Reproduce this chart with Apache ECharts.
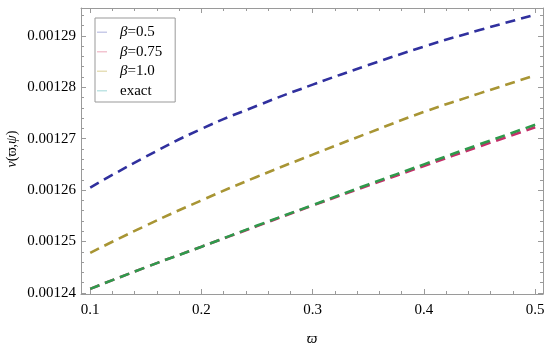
<!DOCTYPE html>
<html><head><meta charset="utf-8">
<script src="https://cdn.jsdelivr.net/npm/echarts@6/dist/echarts.min.js"></script>
</head><body style="margin:0;background:#fff">
<div id="c" style="width:550px;height:348px"></div>
<script>
const xs = [0.1, 0.15, 0.2, 0.25, 0.3, 0.35, 0.4, 0.45, 0.5];
const beta05 = [0.0012605, 0.0012665, 0.0012719, 0.0012764, 0.0012805, 0.0012843, 0.0012879, 0.0012911, 0.0012941];
const beta075 = [0.0012408, 0.0012450, 0.0012490, 0.0012530, 0.0012570, 0.0012609, 0.0012647, 0.0012685, 0.0012722];
const beta10 = [0.0012478, 0.0012531, 0.0012580, 0.0012626, 0.0012669, 0.0012711, 0.0012752, 0.0012788, 0.0012823];
const exact = [0.0012408, 0.0012450, 0.0012490, 0.0012531, 0.0012571, 0.0012611, 0.0012650, 0.0012689, 0.0012727];
const names = ['β=0.5', 'β=0.75', 'β=1.0', 'exact'];
const xMajor = [0.1, 0.2, 0.3, 0.4, 0.5];
const yMajor = [0.00124, 0.00125, 0.00126, 0.00127, 0.00128, 0.00129];

const X_MIN = 0.0917, X_MAX = 0.507, Y_MIN = 0.0012398, Y_MAX = 0.0012954;
const xMinor = [];
for (let k = 5; k <= 25; k++) { const v = +(k * 0.02).toFixed(2); if (Math.abs(v * 10 - Math.round(v * 10)) > 1e-6) xMinor.push(v); }
const yMinor = [];
for (let k = 0; k <= 27; k++) { if (k % 5) yMinor.push(+(0.00124 + k * 0.000002).toFixed(7)); }

const colors = ['#30309e', '#c42f6a', '#a89534', '#2f9a4c'];
const legendColors = ['#c8cbe8', '#f2c4d0', '#e6dfb8', '#bfe4e4'];
const serif = 'Liberation Serif';
const gridRect = { left: 81, right: 7, top: 8, bottom: 54, outerBoundsMode: 'none', containLabel: false };
const axCol = '#9a9a9a';

function xAx(pos, grid, ticks, len, labels) {
  return {
    type: 'value', gridIndex: grid, position: pos, min: X_MIN, max: X_MAX,
    axisLine: { show: grid === 0, lineStyle: { color: axCol, width: 1 } },
    axisTick: { show: true, inside: true, length: len, customValues: ticks, lineStyle: { color: axCol } },
    axisLabel: labels ? { customValues: xMajor, formatter: v => v.toFixed(1), color: '#000', fontFamily: serif, fontSize: 15, margin: 9 } : { show: false },
    splitLine: { show: false },
    name: labels ? 'ϖ' : '', nameLocation: 'middle', nameGap: 38, nameMoveOverlap: false,
    nameTextStyle: { fontFamily: serif, fontStyle: 'italic', fontSize: 15, color: '#000' }
  };
}
function yAx(pos, grid, ticks, len, labels) {
  return {
    type: 'value', gridIndex: grid, position: pos, min: Y_MIN, max: Y_MAX,
    axisLine: { show: grid === 0, lineStyle: { color: axCol, width: 1 } },
    axisTick: { show: true, inside: true, length: len, customValues: ticks, lineStyle: { color: axCol } },
    axisLabel: labels ? { customValues: yMajor, formatter: v => v.toFixed(5), color: '#000', fontFamily: serif, fontSize: 15, margin: 5 } : { show: false },
    splitLine: { show: false },
    name: labels ? '{i|ν}(ϖ,{i|ψ})' : '', nameLocation: 'middle', nameGap: 62, nameRotate: 90, nameMoveOverlap: false,
    nameTextStyle: { fontFamily: serif, fontSize: 14, color: '#000', padding: [0, 0, 0, 4], rich: { i: { fontFamily: serif, fontStyle: 'italic', fontSize: 14, color: '#000' } } }
  };
}

const allData = [beta05, beta075, beta10, exact];
const chart = echarts.init(document.getElementById('c'), null, { renderer: 'canvas' });
chart.setOption({
  animation: false,
  backgroundColor: '#fff',
  grid: [Object.assign({}, gridRect), Object.assign({}, gridRect)],
  xAxis: [xAx('bottom', 0, xMajor, 5, true), xAx('top', 0, xMajor, 5, false),
          xAx('bottom', 1, xMinor, 3, false), xAx('top', 1, xMinor, 3, false)],
  yAxis: [yAx('left', 0, yMajor, 5, true), yAx('right', 0, yMajor, 5, false),
          yAx('left', 1, yMinor, 3, false), yAx('right', 1, yMinor, 3, false)],
  legend: {
    orient: 'vertical', left: 95, top: 18,
    borderColor: '#999', borderWidth: 1, padding: [6, 13, 3, 2],
    itemWidth: 10, itemHeight: 1.5, itemGap: 3,
    data: names.map((n, i) => ({ name: n, icon: 'rect', itemStyle: { color: legendColors[i], opacity: 1, borderWidth: 0 } })),
    formatter: n => n.startsWith('β') ? '{i|β}' + n.slice(1) : n,
    textStyle: { fontFamily: serif, fontSize: 15, lineHeight: 16.5, color: '#000', padding: [0, 0, 0, 8],
      rich: { i: { fontFamily: serif, fontStyle: 'italic', fontSize: 15, lineHeight: 16.5, color: '#000' } } }
  },
  series: names.map((n, i) => ({
    name: n, type: 'line', xAxisIndex: 0, yAxisIndex: 0,
    data: xs.map((x, j) => [x, allData[i][j]]),
    smooth: true, showSymbol: false, symbol: 'none',
    lineStyle: { color: colors[i], width: 2.6, type: [10, 6] },
    itemStyle: { color: colors[i] },
    z: i === 1 ? 2 : 3
  }))
});
</script>
</body></html>
